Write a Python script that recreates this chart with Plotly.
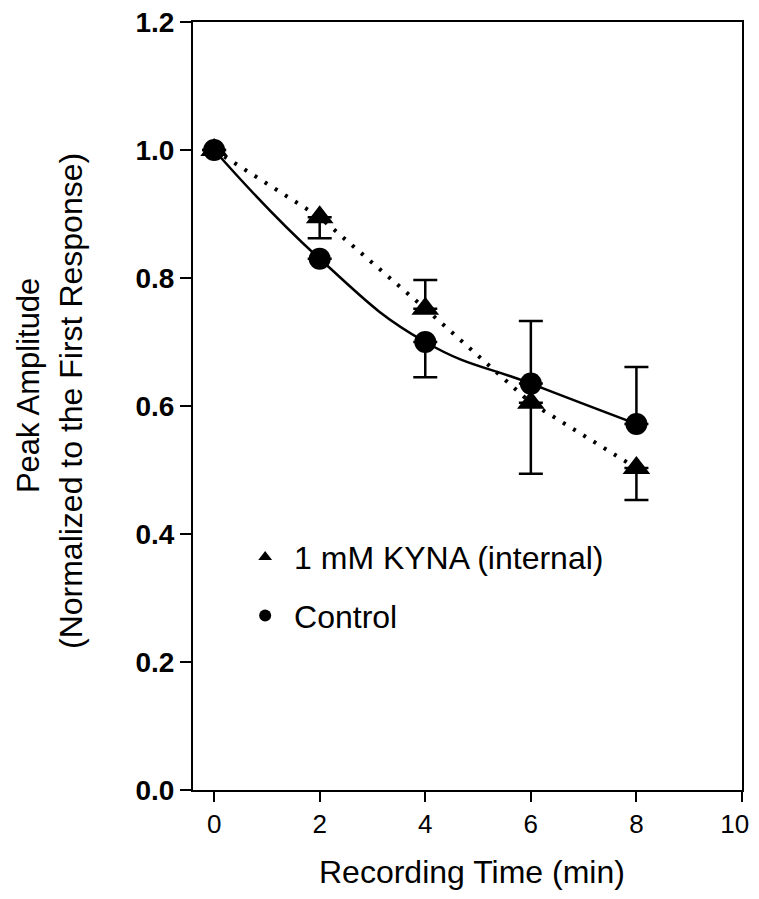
import plotly.graph_objects as go

time_min = [0, 2, 4, 6, 8]

control_vals = [1.0, 0.83, 0.70, 0.635, 0.572]
control_err_up = [0, 0, 0, 0.098, 0.089]
control_err_down = [0, 0, 0.055, 0, 0]

kyna_vals = [1.0, 0.895, 0.752, 0.605, 0.503]
kyna_err_up = [0, 0, 0.045, 0, 0]
kyna_err_down = [0, 0.033, 0, 0.111, 0.05]

y_ticks = [0.0, 0.2, 0.4, 0.6, 0.8, 1.0, 1.2]
x_ticks = [0, 2, 4, 6, 8, 10]

x_title = "Recording Time (min)"
y_title_1 = "Peak Amplitude"
y_title_2 = "(Normalized to the First Response)"

FONT = "Liberation Sans, Arial, sans-serif"
NB = "\u00a0"

fig = go.Figure()

fig.add_trace(go.Scatter(
    x=time_min, y=kyna_vals, mode="lines+markers",
    line=dict(color="black", width=4, dash="3px,9px"),
    marker=dict(symbol="triangle-up", size=24, color="black"),
    error_y=dict(type="data", symmetric=False, array=kyna_err_up,
                 arrayminus=kyna_err_down, color="black", thickness=2.5, width=12),
    showlegend=False,
))
fig.add_trace(go.Scatter(
    x=time_min, y=control_vals, mode="lines+markers",
    line=dict(color="black", width=2.5, shape="spline", smoothing=1.3),
    marker=dict(symbol="circle", size=22, color="black"),
    error_y=dict(type="data", symmetric=False, array=control_err_up,
                 arrayminus=control_err_down, color="black", thickness=2.5, width=12),
    showlegend=False,
))

# legend-only entries
fig.add_trace(go.Scatter(
    x=[None], y=[None], mode="markers", name=NB + "1 mM KYNA (internal)",
    marker=dict(symbol="triangle-up", size=22, color="black"),
    legendgroup="a",
))
fig.add_trace(go.Scatter(
    x=[None], y=[None], mode="markers", name=NB + "Control",
    marker=dict(symbol="circle", size=20, color="black"),
    legendgroup="b",
))

# keep the last tick label inside the visible page
x_ticktext = [str(v) for v in x_ticks]
x_ticktext[-1] = x_ticktext[-1] + NB + NB

fig.update_layout(
    width=751, height=883,
    margin=dict(l=185, r=17, t=14, b=101, autoexpand=False),
    plot_bgcolor="white", paper_bgcolor="white",
    font=dict(family=FONT, color="black", size=26),
    legend=dict(x=0.095, y=0.339, xanchor="left", yanchor="top",
                bgcolor="rgba(0,0,0,0)", font=dict(size=32, family=FONT),
                tracegroupgap=14, itemsizing="constant"),
    showlegend=True,
    annotations=[
        dict(text=x_title, xref="paper", yref="paper", x=0.508, y=-0.1065,
             xanchor="center", yanchor="middle", showarrow=False,
             font=dict(size=32, family=FONT)),
        dict(text=y_title_1, xref="paper", yref="paper", x=-0.3005, y=0.526,
             xanchor="center", yanchor="middle", showarrow=False, textangle=-90,
             font=dict(size=31, family=FONT)),
        dict(text=y_title_2, xref="paper", yref="paper", x=-0.2222, y=0.5065,
             xanchor="center", yanchor="middle", showarrow=False, textangle=-90,
             font=dict(size=32, family=FONT)),
    ],
)
fig.update_xaxes(
    range=[-0.4, 10], tickvals=x_ticks, ticktext=x_ticktext,
    ticks="outside", ticklen=10, tickwidth=2, tickcolor="black",
    showline=True, linewidth=2, linecolor="black", mirror=True,
    showgrid=False, zeroline=False, ticklabeloverflow="allow", automargin=False,
    tickfont=dict(size=26, family=FONT),
)
fig.update_yaxes(
    range=[0, 1.2], tickvals=y_ticks, ticktext=[f"<b>{v:.1f}</b>" for v in y_ticks],
    ticks="outside", ticklen=11, tickwidth=2, tickcolor="black",
    showline=True, linewidth=2, linecolor="black", mirror=True,
    showgrid=False, zeroline=False, ticklabeloverflow="allow", automargin=False,
    tickfont=dict(size=28, family=FONT),
)

fig.write_html("out.html")
